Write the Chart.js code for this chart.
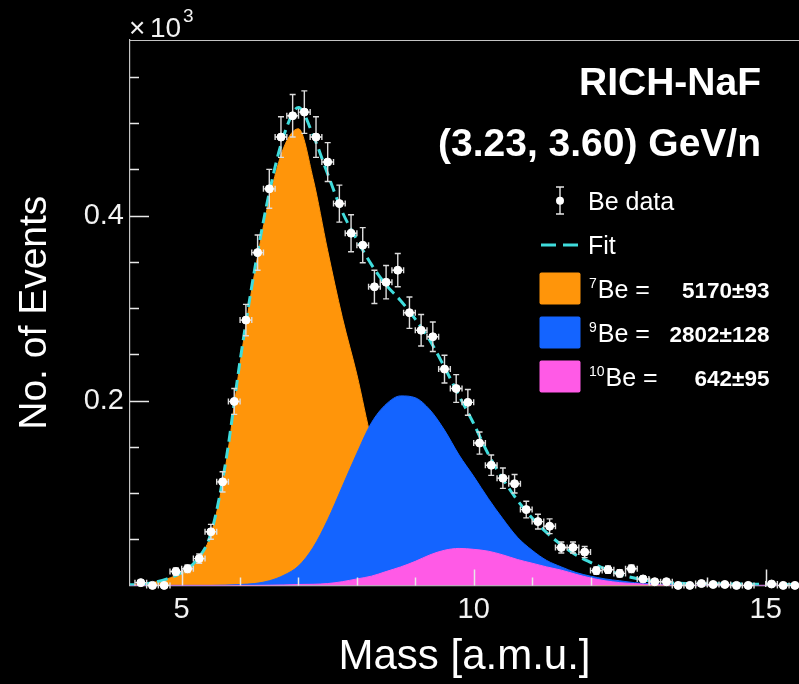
<!DOCTYPE html>
<html>
<head>
<meta charset="utf-8">
<script src="https://cdn.jsdelivr.net/npm/chart.js@4.4.1/dist/chart.umd.min.js"></script>
<style>
  html, body { margin: 0; padding: 0; background: #000; }
  #wrap { position: relative; width: 799px; height: 684px; }
</style>
</head>
<body>
<div id="wrap"><canvas id="massChart"></canvas></div>
<script>
// Be data, bin centres in mass [a.m.u.], counts in units of 10^3 events
const massBins = [4.3, 4.5, 4.7, 4.9, 5.1, 5.3, 5.5, 5.7, 5.9, 6.1, 6.3, 6.5, 6.7, 6.9, 7.1, 7.3, 7.5, 7.7, 7.9,
  8.1, 8.3, 8.5, 8.7, 8.9, 9.1, 9.3, 9.5, 9.7, 9.9, 10.1, 10.3, 10.5, 10.7, 10.9, 11.1, 11.3, 11.5, 11.7, 11.9,
  12.1, 12.3, 12.5, 12.7, 12.9, 13.1, 13.3, 13.5, 13.7, 13.9, 14.1, 14.3, 14.5, 14.7, 14.9, 15.1, 15.3, 15.5];
const counts = [0.003, 0, 0, 0.015, 0.018, 0.029, 0.058, 0.112, 0.199, 0.287, 0.360, 0.429, 0.485, 0.508, 0.512, 0.485, 0.458, 0.413, 0.381,
  0.368, 0.323, 0.328, 0.341, 0.295, 0.276, 0.269, 0.234, 0.213, 0.198, 0.154, 0.130, 0.116, 0.110, 0.082, 0.069, 0.064, 0.041, 0.041, 0.036,
  0.016, 0.017, 0.013, 0.018, 0.007, 0.004, 0.004, 0, 0, 0.002, 0.001, 0.001, 0, 0, null, 0.0015, 0, 0];
const countErr = [0.002, 0, 0, 0.004, 0.004, 0.005, 0.008, 0.011, 0.014, 0.017, 0.019, 0.021, 0.022, 0.023, 0.023, 0.022, 0.021, 0.020, 0.020,
  0.019, 0.018, 0.018, 0.018, 0.017, 0.017, 0.016, 0.015, 0.015, 0.014, 0.012, 0.011, 0.011, 0.010, 0.009, 0.008, 0.008, 0.006, 0.006, 0.006,
  0.004, 0.004, 0.004, 0.004, 0.003, 0.002, 0.002, 0, 0, 0.0015, 0.001, 0.001, 0, 0, null, 0.001, 0, 0];
const binHalfWidth = 0.1;

// fit templates sampled along mass
const curveMass = [4.0, 4.25, 4.5, 4.75, 5.0, 5.25, 5.5, 5.75, 6.0, 6.25, 6.5, 6.75, 7.0, 7.25, 7.5, 7.75, 8.0, 8.25, 8.5, 8.75,
  9.0, 9.25, 9.5, 9.75, 10.0, 10.25, 10.5, 10.75, 11.0, 11.25, 11.5, 11.75, 12.0, 12.25, 12.5, 12.75, 13.0, 13.25, 13.5,
  14.0, 14.5, 15.0, 15.6];
const be7Fit = [0.0005, 0.001, 0.003, 0.007, 0.014, 0.027, 0.055, 0.128, 0.24, 0.338, 0.418, 0.474, 0.494, 0.44, 0.362, 0.29, 0.228, 0.158, 0.115, 0.085,
  0.06, 0.042, 0.03, 0.022, 0.016, 0.011, 0.008, 0.006, 0.004, 0.003, 0.002, 0.001, 0.001, 0, 0, 0, 0, 0, 0,
  0, 0, 0, 0];
const be9Fit = [0, 0, 0, 0, 0, 0, 0, 0.0003, 0.001, 0.002, 0.005, 0.011, 0.021, 0.041, 0.071, 0.107, 0.143, 0.176, 0.196, 0.205,
  0.203, 0.19, 0.168, 0.141, 0.118, 0.094, 0.072, 0.052, 0.038, 0.027, 0.020, 0.014, 0.010, 0.007, 0.005, 0.003, 0.002, 0.001, 0.0005,
  0, 0, 0, 0];
const be10Fit = [0, 0, 0, 0, 0, 0, 0, 0, 0, 0, 0.0002, 0.0005, 0.001, 0.0012, 0.002, 0.004, 0.007, 0.010, 0.015, 0.020,
  0.026, 0.033, 0.038, 0.040, 0.039, 0.037, 0.033, 0.028, 0.024, 0.020, 0.0165, 0.012, 0.008, 0.005, 0.003, 0.002, 0.001, 0.0005, 0,
  0, 0, 0, 0];
const totalFit = [0.0005, 0.001, 0.003, 0.007, 0.014, 0.027, 0.056, 0.132, 0.243, 0.342, 0.425, 0.487, 0.517, 0.487, 0.445, 0.404, 0.374, 0.347, 0.325, 0.308,
  0.288, 0.265, 0.236, 0.205, 0.175, 0.142, 0.115, 0.092, 0.073, 0.057, 0.044, 0.033, 0.025, 0.018, 0.012, 0.008, 0.005, 0.0035, 0.0025,
  0.0018, 0.0015, 0.0012, 0.001];

// legend entries
const isotopes = ['7', '9', '10'];
const yields = ['5170\u00b193', '2802\u00b1128', '642\u00b195'];

const orange = '#ff950a';
const blue = '#1464ff';
const pink = '#ff5ae6';
const cyan = '#3fdcdc';
const frameColor = '#c4c4c4';
const fillColors = [orange, blue, pink];

const pts = (xs, ys) => xs.map((x, i) => ({ x: x, y: ys[i] })).filter(p => p.y !== null);

Chart.defaults.font.family = "'Liberation Sans', Arial, Helvetica, sans-serif";
Chart.defaults.color = '#f2f2f2';

// ROOT style frame: inner ticks, top line, error bars, headers and legend
const rootStyle = {
  id: 'rootStyle',
  beforeDatasetDraw(chart, args) {
    if (args.index !== 0) return;
    const { ctx, scales: { x, y } } = chart;
    ctx.save();
    ctx.strokeStyle = '#dcdcdc';
    ctx.lineWidth = 1.4;
    ctx.beginPath();
    massBins.forEach((m, i) => {
      if (counts[i] === null) return;
      const px = x.getPixelForValue(m);
      const py = y.getPixelForValue(counts[i]);
      const xl = x.getPixelForValue(m - binHalfWidth);
      const xr = x.getPixelForValue(m + binHalfWidth);
      ctx.moveTo(xl, py); ctx.lineTo(xr, py);
      ctx.moveTo(xl, py - 3); ctx.lineTo(xl, py + 3);
      ctx.moveTo(xr, py - 3); ctx.lineTo(xr, py + 3);
      if (countErr[i] > 0) {
        const yt = y.getPixelForValue(counts[i] + countErr[i]);
        const yb = y.getPixelForValue(Math.max(0, counts[i] - countErr[i]));
        ctx.moveTo(px, yt); ctx.lineTo(px, yb);
        ctx.moveTo(px - 3, yt); ctx.lineTo(px + 3, yt);
        ctx.moveTo(px - 3, yb); ctx.lineTo(px + 3, yb);
      }
    });
    ctx.stroke();
    ctx.restore();
  },
  afterDraw(chart) {
    const { ctx, chartArea: a, scales: { x, y } } = chart;
    ctx.save();
    ctx.strokeStyle = frameColor;
    ctx.lineWidth = 1.2;
    ctx.beginPath();
    ctx.moveTo(a.left, a.top + 0.5); ctx.lineTo(a.right + 2, a.top + 0.5);
    ctx.stroke();
    ctx.strokeStyle = '#e8e8e8';
    ctx.lineWidth = 1.5;
    ctx.beginPath();
    x.ticks.forEach(t => {
      const v = t.value;
      if (Math.abs(v - Math.round(v)) > 1e-6) return;
      const px = Math.round(x.getPixelForValue(v)) + 0.5;
      const len = Math.round(v) % 5 === 0 ? 16 : 8;
      ctx.moveTo(px, a.bottom); ctx.lineTo(px, a.bottom - len);
    });
    y.ticks.forEach(t => {
      const k = Math.round(t.value * 20);
      if (k === 0 || Math.abs(t.value * 20 - k) > 1e-6) return;
      const py = Math.round(y.getPixelForValue(t.value)) + 0.5;
      const len = k % 4 === 0 ? 19 : 9;
      ctx.moveTo(a.left, py); ctx.lineTo(a.left + len, py);
    });
    ctx.stroke();

    ctx.fillStyle = '#f2f2f2';
    ctx.textBaseline = 'alphabetic';
    ctx.textAlign = 'left';
    ctx.font = "28px 'Liberation Sans', Arial, sans-serif";
    ctx.fillText('\u00d7', 129, 36.5);
    ctx.fillText('10', 150, 36.5);
    ctx.font = "19px 'Liberation Sans', Arial, sans-serif";
    ctx.fillText('3', 183, 22);

    ctx.fillStyle = '#ffffff';
    ctx.textAlign = 'right';
    ctx.font = "bold 39px 'Liberation Sans', Arial, sans-serif";
    ctx.fillText('RICH-NaF', 761, 94.5);
    ctx.fillText('(3.23, 3.60) GeV/n', 761, 156);

    // legend
    const lx = 588;
    ctx.textAlign = 'left';
    ctx.font = "25px 'Liberation Sans', Arial, sans-serif";
    ctx.fillText('Be data', lx, 209.5);
    ctx.fillText('Fit', lx, 254);
    ctx.strokeStyle = '#e6e6e6';
    ctx.lineWidth = 1.4;
    ctx.beginPath();
    ctx.moveTo(560, 187); ctx.lineTo(560, 214);
    ctx.moveTo(556, 187); ctx.lineTo(564, 187);
    ctx.moveTo(556, 214); ctx.lineTo(564, 214);
    ctx.stroke();
    ctx.fillStyle = '#ffffff';
    ctx.beginPath(); ctx.arc(560, 200.7, 4, 0, Math.PI * 2); ctx.fill();
    ctx.strokeStyle = cyan;
    ctx.lineWidth = 3;
    ctx.setLineDash([15, 7]);
    ctx.beginPath(); ctx.moveTo(541, 245); ctx.lineTo(580, 245); ctx.stroke();
    ctx.setLineDash([]);

    isotopes.forEach((iso, i) => {
      const cy = 288.5 + i * 44;
      ctx.fillStyle = fillColors[i];
      ctx.beginPath();
      if (ctx.roundRect) ctx.roundRect(539.5, cy - 16, 41, 32, 2); else ctx.rect(539.5, cy - 16, 41, 32);
      ctx.fill();
      ctx.fillStyle = '#ffffff';
      ctx.textAlign = 'left';
      ctx.font = "14px 'Liberation Sans', Arial, sans-serif";
      ctx.fillText(iso, 589, cy - 0.5);
      const ws = ctx.measureText(iso).width;
      ctx.font = "25px 'Liberation Sans', Arial, sans-serif";
      ctx.fillText('Be =', 589 + ws + 1, cy + 9.4);
      ctx.textAlign = 'right';
      ctx.font = "bold 22.5px 'Liberation Sans', Arial, sans-serif";
      ctx.fillText(yields[i], 769.5, cy + 9.6);
    });
    ctx.restore();
  }
};

const ctx = document.getElementById('massChart').getContext('2d');
const chart = new Chart(ctx, {
  type: 'scatter',
  data: {
    datasets: [{
      label: 'Be data',
      data: pts(massBins, counts),
      pointRadius: 4,
      pointHoverRadius: 4,
      pointBackgroundColor: '#ffffff',
      pointBorderColor: '#ffffff',
      pointBorderWidth: 1,
      clip: false,
      order: 0
    }, {
      label: 'Fit',
      type: 'line',
      data: pts(curveMass, totalFit),
      borderColor: cyan,
      borderWidth: 3,
      borderDash: [11, 6],
      pointRadius: 0,
      fill: false,
      cubicInterpolationMode: 'monotone',
      order: 1
    }, {
      label: '10Be',
      type: 'line',
      data: pts(curveMass, be10Fit),
      borderColor: pink,
      backgroundColor: pink,
      borderWidth: 1,
      pointRadius: 0,
      fill: 'origin',
      cubicInterpolationMode: 'monotone',
      order: 2
    }, {
      label: '9Be',
      type: 'line',
      data: pts(curveMass, be9Fit),
      borderColor: blue,
      backgroundColor: blue,
      borderWidth: 1,
      pointRadius: 0,
      fill: 'origin',
      cubicInterpolationMode: 'monotone',
      order: 3
    }, {
      label: '7Be',
      type: 'line',
      data: pts(curveMass, be7Fit),
      borderColor: orange,
      backgroundColor: orange,
      borderWidth: 1,
      pointRadius: 0,
      fill: 'origin',
      cubicInterpolationMode: 'monotone',
      order: 4
    }]
  },
  options: {
    responsive: true,
    maintainAspectRatio: false,
    animation: false,
    layout: { autoPadding: false, padding: { top: 40, left: 0, right: 0, bottom: 0 } },
    plugins: {
      legend: { display: false },
      tooltip: { enabled: false }
    },
    scales: {
      x: {
        type: 'linear',
        min: 4.115,
        max: 15.57,
        afterFit(s) { s.height = 98.6; s.paddingLeft = 0; s.paddingRight = 0; },
        grid: { display: false, drawTicks: false },
        border: { color: frameColor, width: 1.2 },
        ticks: {
          stepSize: 1,
          includeBounds: false,
          autoSkip: false,
          maxRotation: 0,
          padding: 7,
          color: '#f2f2f2',
          font: { size: 29 },
          callback: v => (Math.abs(v % 5) < 1e-6 ? String(v) : '')
        },
        title: {
          display: true,
          text: 'Mass [a.m.u.]',
          color: '#ffffff',
          font: { size: 42 },
          padding: { top: 0, bottom: 1 }
        }
      },
      y: {
        min: 0,
        max: 0.59,
        afterFit(s) { s.width = 130; s.paddingTop = 0; s.paddingBottom = 0; },
        grid: { display: false, drawTicks: false },
        border: { color: frameColor, width: 1.2 },
        ticks: {
          stepSize: 0.05,
          includeBounds: false,
          autoSkip: false,
          padding: 6,
          color: '#f2f2f2',
          font: { size: 29 },
          callback: v => {
            const k = Math.round(v * 20);
            return (k > 0 && k % 4 === 0 && Math.abs(v * 20 - k) < 1e-6) ? (k / 20).toFixed(1) : '';
          }
        },
        title: {
          display: true,
          text: 'No. of Events',
          color: '#ffffff',
          font: { size: 39 },
          padding: { top: 12, bottom: 0 }
        }
      }
    }
  },
  plugins: [rootStyle]
});
</script>
</body>
</html>
